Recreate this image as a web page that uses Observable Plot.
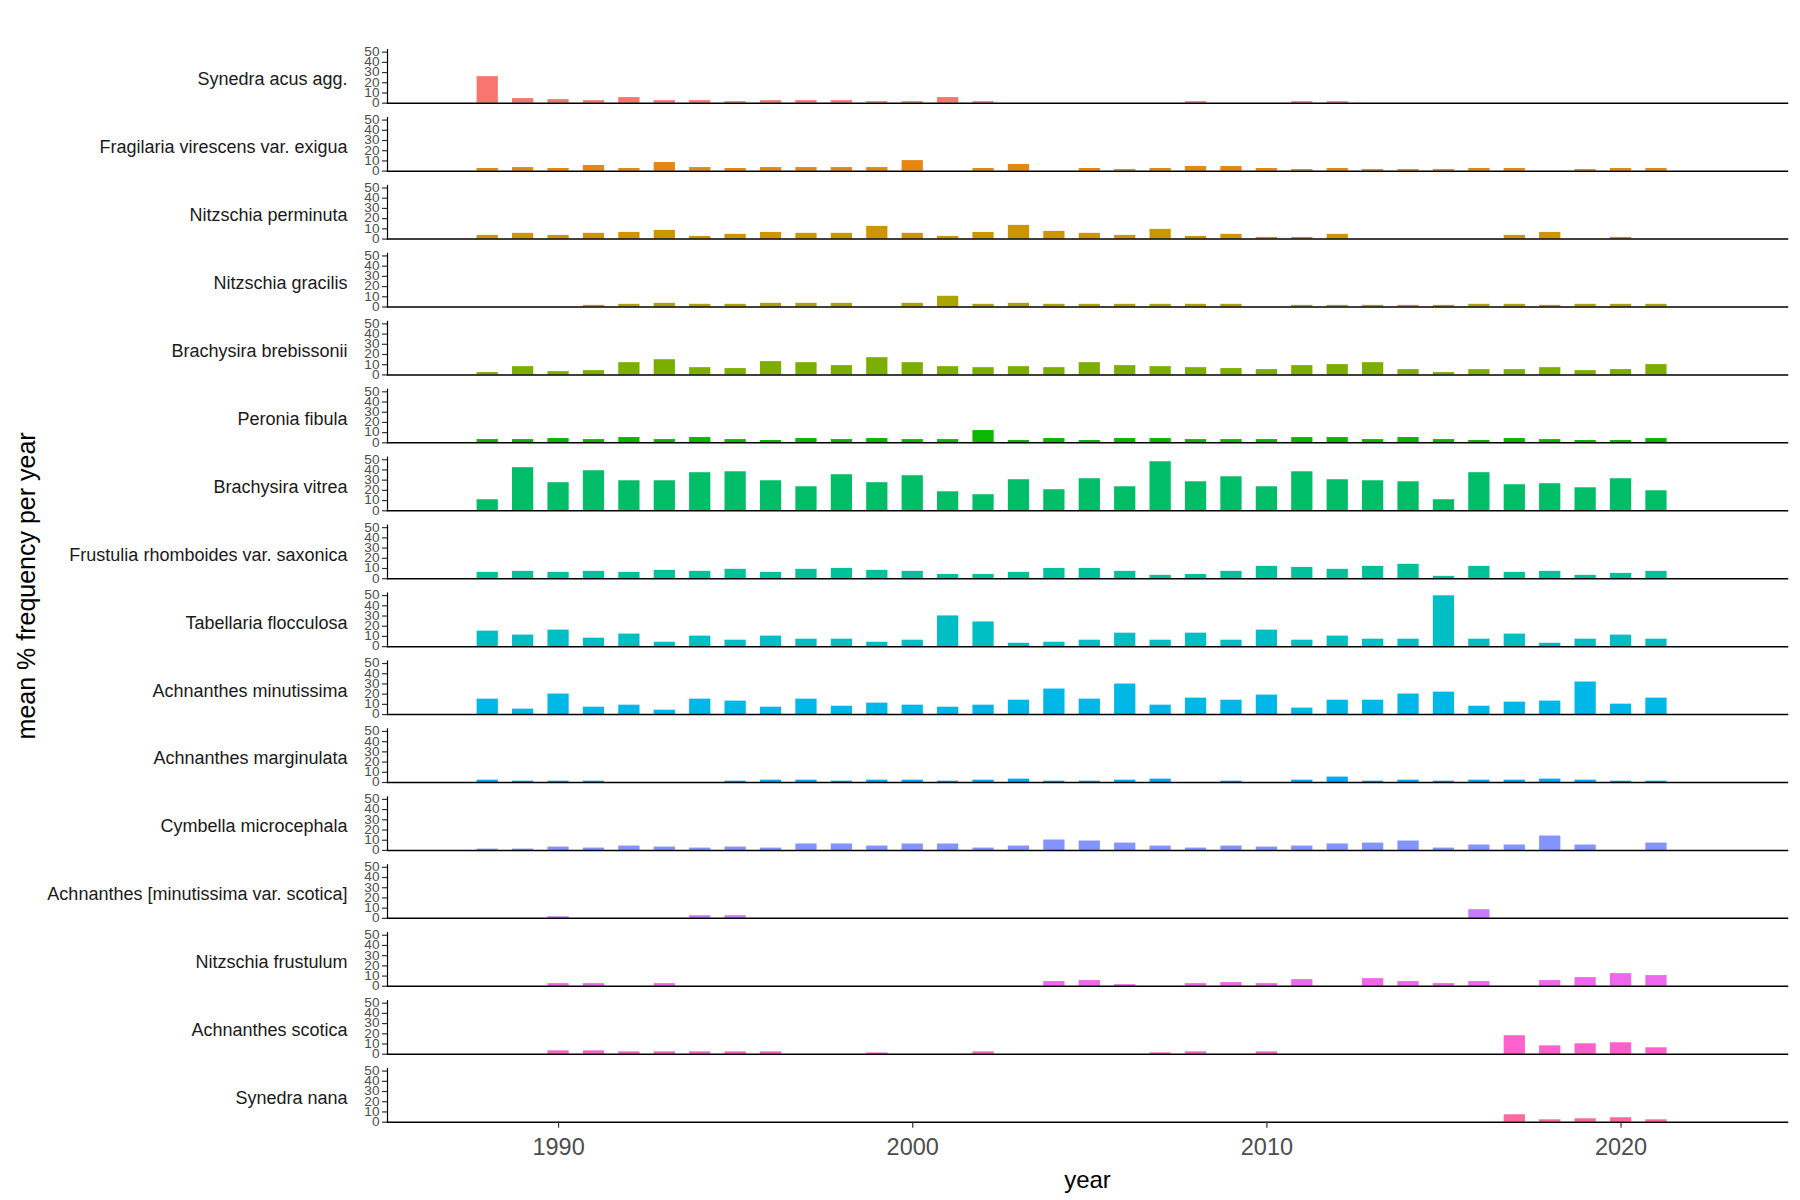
<!DOCTYPE html>
<html>
<head>
<meta charset="utf-8">
<script src="https://cdn.jsdelivr.net/npm/d3@7"></script>
<script src="https://cdn.jsdelivr.net/npm/@observablehq/plot@0.6"></script>
<style>
  html, body { margin: 0; padding: 0; background: #fff; }
  #chart svg { display: block; }
  g[aria-label="x-axis label"] text { font-size: 24px; fill: #000; }
  g[aria-label="fy-axis label"] text { font-size: 25px; fill: #000; }
</style>
</head>
<body>
<div id="chart"></div>
<script>
// ---- data ----
const years = [1988,1989,1990,1991,1992,1993,1994,1995,1996,1997,1998,1999,2000,2001,2002,2003,2004,
               2005,2006,2007,2008,2009,2010,2011,2012,2013,2014,2015,2016,2017,2018,2019,2020,2021];

const species = [
  "Synedra acus agg.",
  "Fragilaria virescens var. exigua",
  "Nitzschia perminuta",
  "Nitzschia gracilis",
  "Brachysira brebissonii",
  "Peronia fibula",
  "Brachysira vitrea",
  "Frustulia rhomboides var. saxonica",
  "Tabellaria flocculosa",
  "Achnanthes minutissima",
  "Achnanthes marginulata",
  "Cymbella microcephala",
  "Achnanthes [minutissima var. scotica]",
  "Nitzschia frustulum",
  "Achnanthes scotica",
  "Synedra nana"
];

const palette = ["#F8766D","#E68613","#CD9600","#ABA300","#7CAE00","#0CB702","#00BE67","#00C19A",
                 "#00BFC4","#00B8E7","#00A9FF","#8494FF","#C77CFF","#ED68ED","#FF61CC","#FF68A1"];

const xTicks = [1990, 2000, 2010, 2020];
const yTicks = [0, 10, 20, 30, 40, 50];

// values per year (1988..2021), null = no record
const synedraAcus = [26,4.5,3.5,2.5,5.5,2.5,2.5,1.5,2.5,2.5,2.5,1.5,1.5,5.5,1.5,null,null,null,null,null,1.5,null,null,1.5,1.5,null,null,null,null,null,null,null,null,null];
const fragilariaVirescens = [2.6,3.5,2.6,5.5,2.6,8.4,3.5,2.6,3.5,3.5,3.5,3.5,10.3,null,2.6,6.5,null,2.6,1.6,2.6,4.5,4.5,2.6,1.6,2.6,1.6,1.6,1.6,2.6,2.6,null,1.6,2.6,2.6];
const nitzschiaPerminuta = [3.6,5.6,3.6,5.6,6.5,8.5,2.6,4.6,6.5,5.6,5.6,12.4,5.6,2.6,6.5,13.4,7.5,5.6,3.6,9.5,2.6,4.6,1.6,1.6,4.6,null,null,null,null,3.6,6.5,null,1.6,null];
const nitzschiaGracilis = [null,null,null,1.6,2.6,3.6,2.6,2.6,3.6,3.6,3.6,null,3.6,10.5,2.6,3.6,2.6,2.6,2.6,2.6,2.6,2.6,null,1.6,1.6,1.6,1.6,1.6,2.6,2.6,1.6,2.6,2.6,2.6];
const brachysiraBrebissonii = [2.3,8.1,3.2,4.2,12.0,14.9,7.1,6.2,13.0,12.0,9.1,16.9,12.0,8.1,7.1,8.1,7.1,12.0,9.1,8.1,7.1,6.2,5.2,9.1,10.1,12.0,5.2,2.3,5.2,5.2,7.1,4.2,5.2,10.1];
const peroniaFibula = [3.2,3.2,4.2,3.2,5.2,3.2,5.2,3.2,2.3,4.2,3.2,4.2,3.2,3.2,12.0,2.3,4.2,2.3,4.2,4.2,3.2,3.2,3.2,5.2,5.2,3.2,5.2,3.2,2.3,4.2,3.2,2.3,2.3,4.2];
const brachysiraVitrea = [10.8,42.2,27.5,39.2,29.4,29.4,37.3,38.2,29.4,23.5,35.3,27.5,34.3,18.6,15.7,30.4,20.6,31.4,23.5,48.0,28.4,33.3,23.5,38.2,30.4,29.4,28.4,10.8,37.3,25.5,26.5,22.5,31.4,19.6];
const frustuliaRhomboides = [6.2,7.2,6.2,7.2,6.2,8.2,7.2,9.2,6.2,9.2,10.1,8.2,7.2,4.2,4.2,6.2,10.1,10.1,7.2,3.3,4.2,7.2,12.1,11.1,9.2,12.1,14.1,2.3,12.1,6.2,7.2,3.3,5.2,7.2];
const tabellariaFlocculosa = [15.2,11.3,16.2,8.3,12.3,4.3,10.3,6.3,10.3,7.3,7.3,4.3,6.3,30.1,24.2,3.3,4.3,6.3,13.2,6.3,13.2,6.3,16.2,6.3,10.3,7.3,7.3,49.8,7.3,12.3,3.3,7.3,11.3,7.3];
const achnanthesMinutissima = [15.1,5.3,20.1,7.2,9.2,4.3,15.1,13.2,7.2,15.1,8.2,11.2,9.2,7.2,9.2,14.1,25.0,15.1,29.9,9.2,16.1,14.1,19.1,6.3,14.1,14.1,20.1,22.0,8.2,12.2,13.2,31.9,10.2,16.1];
const achnanthesMarginulata = [2.3,1.3,1.3,1.3,null,null,null,1.3,2.3,2.3,1.3,2.3,2.3,1.3,2.3,3.3,1.3,1.3,2.3,3.3,null,1.3,null,2.3,5.3,1.3,2.3,1.3,2.3,2.3,3.3,2.3,1.3,1.3];
const cymbellaMicrocephala = [1.3,1.3,3.3,2.3,4.3,3.3,2.3,3.3,2.3,6.3,6.3,4.3,6.3,6.3,2.3,4.3,10.2,9.2,7.2,4.3,2.3,4.3,3.3,4.3,6.3,7.2,9.2,2.3,5.3,5.3,14.1,5.3,null,7.2];
const achnanthesMinVarScotica = [null,null,1.6,null,null,null,2.6,2.6,null,null,null,null,null,null,null,null,null,null,null,null,null,null,null,null,null,null,null,null,8.5,null,null,null,null,null];
const nitzschiaFrustulum = [null,null,2.6,2.6,null,2.6,null,null,null,null,null,null,null,null,null,null,4.6,5.6,1.6,null,2.6,3.6,2.6,6.5,null,7.5,4.6,2.6,4.6,null,5.6,8.5,12.4,10.5];
const achnanthesScotica = [null,null,3.3,3.3,2.3,2.3,2.3,2.3,2.3,null,null,1.3,null,null,2.3,null,null,null,null,1.3,2.3,null,2.3,null,null,null,null,null,null,18.1,8.2,10.2,11.2,6.3];
const synedraNana = [null,null,null,null,null,null,null,null,null,null,null,null,null,null,null,null,null,null,null,null,null,null,null,null,null,null,null,null,null,7.2,2.3,3.3,4.3,2.3];

const seriesBySpecies = [
  synedraAcus, fragilariaVirescens, nitzschiaPerminuta, nitzschiaGracilis,
  brachysiraBrebissonii, peroniaFibula, brachysiraVitrea, frustuliaRhomboides,
  tabellariaFlocculosa, achnanthesMinutissima, achnanthesMarginulata, cymbellaMicrocephala,
  achnanthesMinVarScotica, nitzschiaFrustulum, achnanthesScotica, synedraNana
];

// long table built from the arrays
const rows = [];
species.forEach((s, i) => {
  seriesBySpecies[i].forEach((v, j) => {
    if (v != null) rows.push({species: s, year: years[j], value: v});
  });
});

const halfBar = 0.3;

const chart = Plot.plot({
  width: 1800,
  height: 1200,
  marginLeft: 387,
  marginRight: 13,
  marginTop: 49.1,
  marginBottom: 78.35,
  style: {fontFamily: "'Liberation Sans', Arial, sans-serif", background: "#fff"},
  x: {domain: [1985.17, 2024.7]},
  y: {domain: [0, 52.5]},
  fy: {domain: species, paddingInner: 0.211, paddingOuter: 0, round: false},
  color: {domain: species, range: palette},
  marks: [
    Plot.rectY(rows, {
      fy: "species",
      x1: d => d.year - halfBar,
      x2: d => d.year + halfBar,
      y: "value",
      fill: "species"
    }),
    Plot.frame({anchor: "bottom", stroke: "#000", strokeWidth: 1.5}),
    Plot.frame({anchor: "left", stroke: "#000", strokeWidth: 1.2}),
    Plot.axisY({ticks: yTicks, tickSize: 5, tickPadding: 3, fontSize: 12, label: null,
                stroke: "#333", fill: "#4d4d4d", strokeWidth: 1.2}),
    Plot.axisX({ticks: xTicks, tickFormat: "d", tickSize: 6, tickPadding: 10, fontSize: 23.5,
                stroke: "#333", fill: "#4d4d4d", strokeWidth: 1.2,
                label: "year", labelAnchor: "center", labelArrow: "none", labelOffset: 66}),
    Plot.axisFy({anchor: "left", tickSize: 0, tickPadding: 40, fontSize: 18, fill: "#1a1a1a", dy: 3,
                 label: "mean % frequency per year", labelAnchor: "center", labelArrow: "none", labelOffset: 370})
  ]
});

// the reference's small y tick labels are drawn wide; stretch glyphs horizontally
d3.select(chart).selectAll('g[aria-label="y-axis tick label"] text').each(function() {
  const t = this.textContent;
  this.setAttribute("textLength", 7.6 * t.length);
  this.setAttribute("lengthAdjust", "spacingAndGlyphs");
});

document.getElementById("chart").appendChild(chart);
</script>
</body>
</html>
